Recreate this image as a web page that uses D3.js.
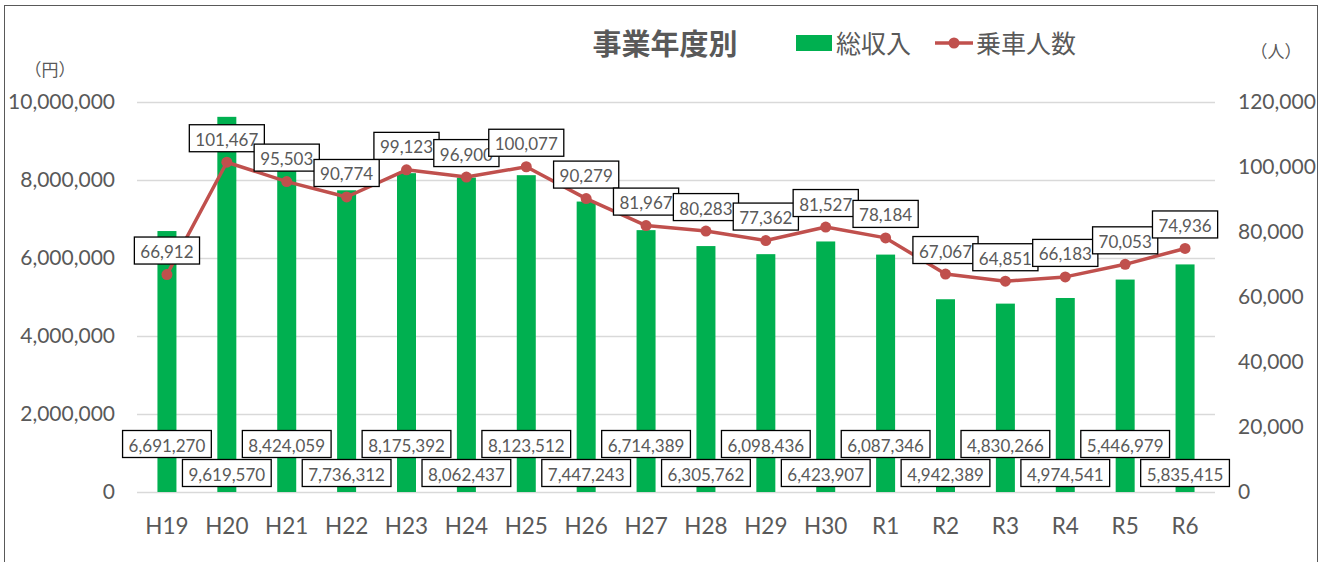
<!DOCTYPE html>
<html>
<head>
<meta charset="utf-8">
<script src="https://cdn.jsdelivr.net/npm/d3@7"></script>
<style>
  body { margin: 0; background: #fff; }
  text { font-family: Lato, "Noto Sans CJK JP", sans-serif; fill: #595959; }
  .jp { font-family: "Noto Sans CJK JP", sans-serif; }
</style>
</head>
<body>
<svg></svg>
<script>
var categories = ["H19", "H20", "H21", "H22", "H23", "H24", "H25", "H26", "H27", "H28", "H29", "H30", "R1", "R2", "R3", "R4", "R5", "R6"];
var revenue = [6691270, 9619570, 8424059, 7736312, 8175392, 8062437, 8123512, 7447243, 6714389, 6305762, 6098436, 6423907, 6087346, 4942389, 4830266, 4974541, 5446979, 5835415];
var riders = [66912, 101467, 95503, 90774, 99123, 96900, 100077, 90279, 81967, 80283, 77362, 81527, 78184, 67067, 64851, 66183, 70053, 74936];
var leftTicks = [0, 2000000, 4000000, 6000000, 8000000, 10000000];
var rightTicks = [0, 20000, 40000, 60000, 80000, 100000, 120000];

var width = 1329, height = 562;
var plot = { left: 137, right: 1215, top: 102, bottom: 492 };
var fmt = d3.format(",");

var svg = d3.select("svg")
    .attr("width", width)
    .attr("height", height);

// frame
svg.append("rect")
    .attr("x", 4.5).attr("y", 5.5)
    .attr("width", 1313).attr("height", 570)
    .attr("fill", "none")
    .attr("stroke", "#595959");

var x = d3.scaleBand()
    .domain(categories)
    .range([plot.left, plot.right]);

var yL = d3.scaleLinear().domain([0, 10000000]).range([plot.bottom, plot.top]);
var yR = d3.scaleLinear().domain([0, 120000]).range([plot.bottom, plot.top]);

// gridlines
svg.append("g").selectAll("line")
    .data(leftTicks)
    .join("line")
    .attr("x1", plot.left).attr("x2", plot.right)
    .attr("y1", d => yL(d) + 0.5).attr("y2", d => yL(d) + 0.5)
    .attr("stroke", "#d9d9d9")
    .attr("stroke-width", 1.3);

// axes
var axL = svg.append("g")
    .attr("transform", "translate(" + (plot.left - 22) + ",0)")
    .call(d3.axisLeft(yL).tickValues(leftTicks).tickFormat(fmt).tickSize(0).tickPadding(0));
var axR = svg.append("g")
    .attr("transform", "translate(" + (plot.right + 23) + ",0)")
    .call(d3.axisRight(yR).tickValues(rightTicks).tickFormat(fmt).tickSize(0).tickPadding(0));
var axX = svg.append("g")
    .attr("transform", "translate(0," + plot.bottom + ")")
    .call(d3.axisBottom(x).tickSize(0).tickPadding(26));
[axL, axR].forEach(function (a) {
    a.select(".domain").remove();
    a.selectAll("text")
        .style("font-family", "Lato, sans-serif")
        .style("font-size", "21px")
        .attr("fill", "#595959");
});
axX.select(".domain").remove();
axX.selectAll("text")
    .style("font-family", "Lato, sans-serif")
    .style("font-size", "22.5px")
    .attr("fill", "#595959");

// bars
var bw = 19;
svg.append("g").selectAll("rect")
    .data(revenue)
    .join("rect")
    .attr("x", (d, i) => x(categories[i]) + x.bandwidth() / 2 - bw / 2)
    .attr("y", d => yL(d))
    .attr("width", bw)
    .attr("height", d => yL(0) - yL(d))
    .attr("fill", "#00b050");

// line
var line = d3.line()
    .x((d, i) => x(categories[i]) + x.bandwidth() / 2)
    .y(d => yR(d));

svg.append("path")
    .attr("d", line(riders))
    .attr("fill", "none")
    .attr("stroke", "#c0504d")
    .attr("stroke-width", 3.5)
    .attr("stroke-linejoin", "round");

svg.append("g").selectAll("circle")
    .data(riders)
    .join("circle")
    .attr("cx", (d, i) => x(categories[i]) + x.bandwidth() / 2)
    .attr("cy", d => yR(d))
    .attr("r", 5.5)
    .attr("fill", "#c0504d");

// boxed data labels
function boxLabel(g, cx, cy, txt) {
    var grp = g.append("g");
    var r = grp.append("rect");
    var t = grp.append("text")
        .attr("x", cx).attr("y", cy + 1)
        .attr("text-anchor", "middle")
        .attr("dominant-baseline", "central")
        .style("font-size", "17px")
        .text(txt);
    var w = t.node().getComputedTextLength() + 12;
    r.attr("x", cx - w / 2).attr("y", cy - 13.5)
        .attr("width", w).attr("height", 27)
        .attr("fill", "#fff")
        .attr("stroke", "#000")
        .attr("stroke-width", 1.3);
}

var labels = svg.append("g");
revenue.forEach(function (d, i) {
    var cx = x(categories[i]) + x.bandwidth() / 2;
    boxLabel(labels, cx, i % 2 === 0 ? 444 : 473, fmt(d));
});
riders.forEach(function (d, i) {
    var cx = x(categories[i]) + x.bandwidth() / 2;
    boxLabel(labels, cx, yR(d) - 24, fmt(d));
});

// units
svg.append("text").attr("class", "jp")
    .attr("x", 50).attr("y", 68)
    .attr("text-anchor", "middle").attr("dominant-baseline", "central")
    .style("font-size", "17px").text("（円）");
svg.append("text").attr("class", "jp")
    .attr("x", 1276).attr("y", 50)
    .attr("text-anchor", "middle").attr("dominant-baseline", "central")
    .style("font-size", "17px").text("（人）");

// title
svg.append("text").attr("class", "jp")
    .attr("x", 665).attr("y", 42)
    .attr("text-anchor", "middle").attr("dominant-baseline", "central")
    .style("font-size", "29px").style("font-weight", "bold")
    .text("事業年度別");

// legend
svg.append("rect")
    .attr("x", 796).attr("y", 35).attr("width", 36).attr("height", 16)
    .attr("fill", "#00b050");
svg.append("text").attr("class", "jp")
    .attr("x", 836).attr("y", 42)
    .attr("dominant-baseline", "central")
    .style("font-size", "25px").text("総収入");
svg.append("line")
    .attr("x1", 935).attr("x2", 973).attr("y1", 43).attr("y2", 43)
    .attr("stroke", "#c0504d").attr("stroke-width", 3.5);
svg.append("circle")
    .attr("cx", 954).attr("cy", 43).attr("r", 5.5)
    .attr("fill", "#c0504d");
svg.append("text").attr("class", "jp")
    .attr("x", 976).attr("y", 42)
    .attr("dominant-baseline", "central")
    .style("font-size", "25px").text("乗車人数");
</script>
</body>
</html>
